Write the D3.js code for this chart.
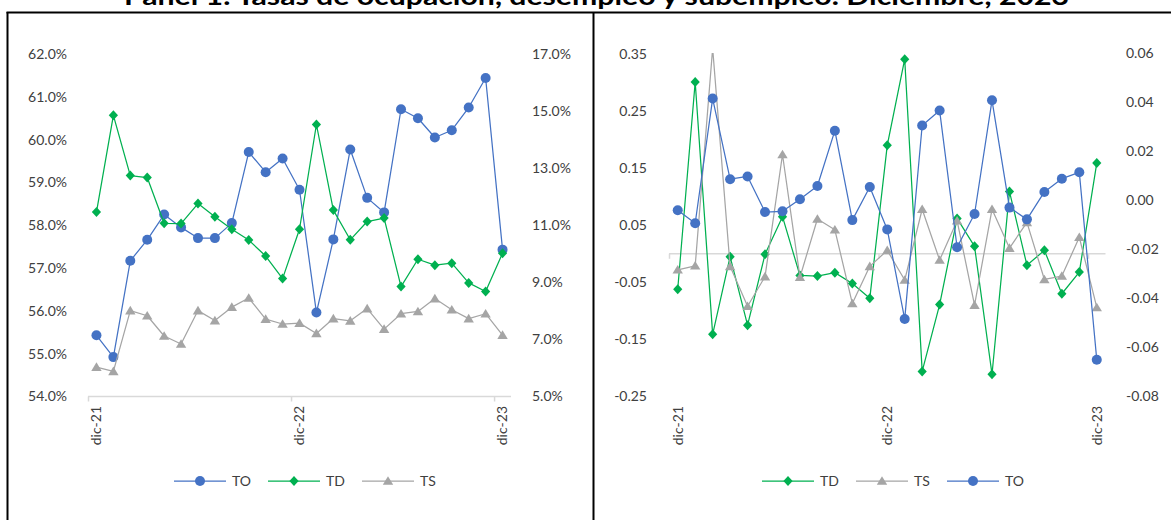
<!DOCTYPE html>
<html>
<head>
<meta charset="utf-8">
<script src="https://cdn.jsdelivr.net/npm/d3@7"></script>
<style>
  html, body { margin: 0; padding: 0; background: #fff; }
  svg { display: block; font-family: Lato, "Open Sans", sans-serif; }
</style>
</head>
<body>
<svg id="chart" width="1171" height="520"></svg>
<script>
// ---------- DATA ----------
const months = ["dic-21","ene-22","feb-22","mar-22","abr-22","may-22","jun-22","jul-22","ago-22","sep-22","oct-22","nov-22",
                "dic-22","ene-23","feb-23","mar-23","abr-23","may-23","jun-23","jul-23","ago-23","sep-23","oct-23","nov-23","dic-23"];
const shownLabels = ["dic-21","dic-22","dic-23"];

// Left panel: levels (%)
const toLevel = [55.43,54.92,57.17,57.66,58.25,57.95,57.70,57.70,58.05,59.71,59.24,59.56,58.83,55.96,57.67,59.77,58.64,58.30,60.71,60.50,60.05,60.22,60.75,61.44,57.43];
const tdLevel = [11.46,14.85,12.74,12.67,11.07,11.06,11.76,11.30,10.86,10.48,9.92,9.13,10.86,14.53,11.53,10.49,11.13,11.25,8.85,9.81,9.60,9.67,8.98,8.68,10.02];
const tsLevel = [6.03,5.88,8.01,7.83,7.12,6.84,8.01,7.66,8.13,8.45,7.71,7.54,7.57,7.21,7.73,7.65,8.08,7.36,7.90,7.98,8.43,8.04,7.73,7.90,7.15];

// Right panel: changes
const tdChange = [-0.062,0.301,-0.141,-0.005,-0.125,-0.001,0.065,-0.038,-0.039,-0.033,-0.052,-0.078,0.190,0.341,-0.206,-0.089,0.062,0.013,-0.211,0.109,-0.020,0.006,-0.070,-0.032,0.159];
const tsChange = [-0.028,-0.021,0.360,-0.022,-0.092,-0.040,0.174,-0.041,0.061,0.042,-0.087,-0.022,0.006,-0.046,0.078,-0.011,0.058,-0.090,0.078,0.010,0.055,-0.045,-0.039,0.029,-0.094];
const toChange = [-0.0040,-0.0093,0.0416,0.0087,0.0098,-0.0047,-0.0044,0.0005,0.0059,0.0285,-0.0080,0.0055,-0.0118,-0.0484,0.0306,0.0367,-0.0191,-0.0055,0.0409,-0.0029,-0.0077,0.0035,0.0089,0.0115,-0.0650];

// Tick labels
const leftTicksL = [54,55,56,57,58,59,60,61,62];
const leftTicksR = [5,7,9,11,13,15,17];
const rightTicksL = [-0.25,-0.15,-0.05,0.05,0.15,0.25,0.35];
const rightTicksR = [-0.08,-0.06,-0.04,-0.02,0.00,0.02,0.04,0.06];

const titleText = "Panel 1. Tasas de ocupación, desempleo y subempleo. Diciembre, 2023";

// ---------- STYLE ----------
const C = { TO: "#4472C4", TD: "#00B050", TS: "#A5A5A5" };
const textCol = "#404040";
const axisCol = "#D9D9D9";
const markerPath = {
  TO: null,
  TD: "M0,-5L4.6,0L0,5L-4.6,0Z",
  TS: "M0,-4.8L5.2,3.8L-5.2,3.8Z"
};

const svg = d3.select("#chart");
svg.append("rect").attr("width",1171).attr("height",520).attr("fill","#fff");

// Title
svg.append("text")
  .attr("x", 596.5).attr("y", 5)
  .attr("text-anchor","middle")
  .attr("font-weight",700).attr("font-size",25)
  .attr("fill","#000")
  .attr("textLength", 945).attr("lengthAdjust","spacingAndGlyphs")
  .text(titleText);

// Panel frames
svg.append("line").attr("x1",6.5).attr("x2",1171).attr("y1",12.5).attr("y2",12.5).attr("stroke","#000").attr("stroke-width",2);
svg.append("line").attr("x1",7.5).attr("x2",7.5).attr("y1",12).attr("y2",520).attr("stroke","#000").attr("stroke-width",2);
svg.append("line").attr("x1",593.5).attr("x2",593.5).attr("y1",12).attr("y2",520).attr("stroke","#000").attr("stroke-width",2);

function drawMarker(g, key, x, y) {
  if (key === "TO") {
    g.append("circle").attr("cx",x).attr("cy",y).attr("r",5).attr("fill",C.TO);
  } else {
    g.append("path").attr("d",markerPath[key]).attr("transform",`translate(${x},${y})`).attr("fill",C[key]);
  }
}

function drawSeries(g, key, values, x, y, clipId) {
  const sg = g.append("g");
  if (clipId) sg.attr("clip-path", `url(#${clipId})`);
  const line = d3.line().x((d,i) => x(months[i]) + x.bandwidth()/2).y(d => y(d));
  sg.append("path").datum(values).attr("d", line)
    .attr("fill","none").attr("stroke",C[key]).attr("stroke-width",1.25).attr("stroke-linejoin","round");
  values.forEach((v,i) => {
    const px = x(months[i]) + x.bandwidth()/2, py = y(v);
    if (key === "TO") {
      sg.append("circle").attr("cx",px).attr("cy",py).attr("r",5).attr("fill",C.TO);
    } else {
      sg.append("path").attr("d",markerPath[key]).attr("transform",`translate(${px},${py})`).attr("fill",C[key]);
    }
  });
}

function styleAxis(ax, anchor) {
  ax.select(".domain").remove();
  ax.selectAll(".tick line").remove();
  ax.selectAll("text").attr("fill",textCol).attr("font-size",14).attr("font-family","Lato, sans-serif");
}

function drawLegend(g, items, y) {
  items.forEach(it => {
    const lg = g.append("g");
    lg.append("line").attr("x1",it.x).attr("x2",it.x+52).attr("y1",y).attr("y2",y)
      .attr("stroke",C[it.key]).attr("stroke-width",1.25);
    drawMarker(lg, it.key, it.x+26, y);
    lg.append("text").attr("x",it.x+58).attr("y",y).attr("dy","0.35em")
      .attr("font-size",14).attr("fill",textCol).text(it.key);
  });
}

function drawCategoryAxis(g, x, xb, yLine, labelTop) {
  const ax = g.append("g").attr("transform",`translate(0,${yLine})`)
    .call(d3.axisBottom(xb).tickValues([0,12,24]).tickSize(5).tickFormat(""));
  ax.select(".domain").attr("stroke",axisCol).attr("stroke-width",1.5).attr("d",`M${xb.range()[0]},0H${xb.range()[1]}`);
  ax.selectAll(".tick line").attr("stroke",axisCol).attr("stroke-width",1.5);
  shownLabels.forEach(lbl => {
    const cx = x(lbl) + x.bandwidth()/2;
    g.append("text")
      .attr("transform",`translate(${cx},${labelTop}) rotate(-90)`)
      .attr("text-anchor","end").attr("dy","0.35em")
      .attr("font-size",14).attr("fill",textCol).text(lbl);
  });
}

const yTop = 54, yBot = 396.5;

// ---------- LEFT PANEL ----------
{
  const g = svg.append("g");
  const x = d3.scaleBand().domain(months).range([88, 511]).padding(0);
  const xb = d3.scaleLinear().domain([0, months.length]).range([88, 511]);
  const yL = d3.scaleLinear().domain([54, 62]).range([yBot, yTop]);
  const yR = d3.scaleLinear().domain([5, 17]).range([yBot, yTop]);

  const axL = g.append("g").attr("transform","translate(88,0)")
    .call(d3.axisLeft(yL).tickValues(leftTicksL).tickPadding(15).tickFormat(d => d.toFixed(1) + "%"));
  styleAxis(axL);
  const axR = g.append("g").attr("transform","translate(511,0)")
    .call(d3.axisRight(yR).tickValues(leftTicksR).tickPadding(15).tickFormat(d => d.toFixed(1) + "%"));
  styleAxis(axR);

  drawCategoryAxis(g, x, xb, yBot, 406);

  drawSeries(g, "TO", toLevel, x, yL);
  drawSeries(g, "TD", tdLevel, x, yR);
  drawSeries(g, "TS", tsLevel, x, yR);

  drawLegend(g, [{key:"TO",x:174},{key:"TD",x:268},{key:"TS",x:362}], 481);
}

// ---------- RIGHT PANEL ----------
{
  const g = svg.append("g");
  const x = d3.scaleBand().domain(months).range([669, 1105.5]).padding(0);
  const xb = d3.scaleLinear().domain([0, months.length]).range([669, 1105.5]);
  const yL = d3.scaleLinear().domain([-0.25, 0.35]).range([yBot, yTop]);
  const yR = d3.scaleLinear().domain([-0.08, 0.06]).range([yBot, yTop - 0.5]);

  svg.append("clipPath").attr("id","clipR").append("rect")
    .attr("x",660).attr("y",yTop - 1).attr("width",460).attr("height",yBot - yTop + 12);

  const axL = g.append("g").attr("transform","translate(669,0)")
    .call(d3.axisLeft(yL).tickValues(rightTicksL).tickPadding(16).tickFormat(d => d.toFixed(2)));
  styleAxis(axL);
  const axR = g.append("g").attr("transform","translate(1105.5,0)")
    .call(d3.axisRight(yR).tickValues(rightTicksR).tickPadding(14.5).tickFormat(d => d.toFixed(2)));
  styleAxis(axR);

  drawCategoryAxis(g, x, xb, yL(0), 406);

  drawSeries(g, "TD", tdChange, x, yL, "clipR");
  drawSeries(g, "TS", tsChange, x, yL, "clipR");
  drawSeries(g, "TO", toChange, x, yR, "clipR");

  drawLegend(g, [{key:"TD",x:762},{key:"TS",x:856},{key:"TO",x:947}], 481);
}
</script>
</body>
</html>
